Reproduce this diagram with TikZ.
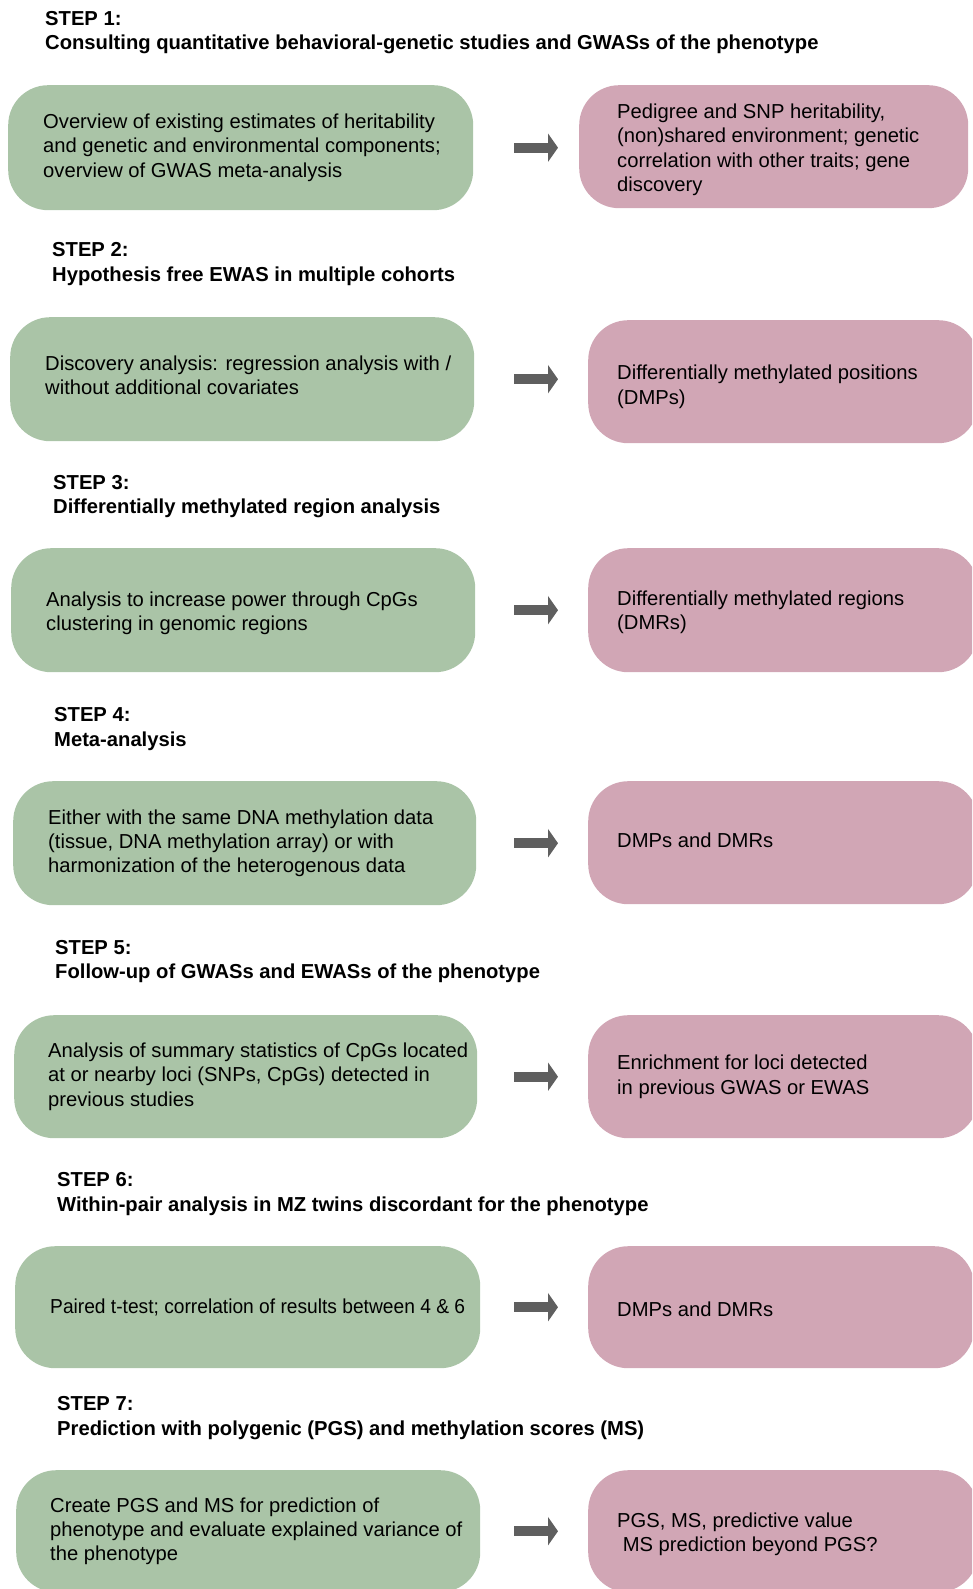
\documentclass[tikz,border=0pt]{standalone}
\usepackage{fontspec}
\setmainfont{Liberation Sans}
\newfontfamily\narrowfont[FakeStretch=0.95]{Liberation Sans}
\usetikzlibrary{arrows.meta,positioning}
\definecolor{boxgreen}{RGB}{170,196,167}
\definecolor{boxpink}{RGB}{209,166,181}
\definecolor{arrowgray}{RGB}{95,95,95}

\begin{document}
\begin{tikzpicture}[
    x=1pt, y=-1pt,
    every node/.style={color=black, font=\fontsize{20.2}{24.2}\selectfont},
    greenbox/.style={fill=boxgreen, rounded corners=40pt, anchor=north west, inner sep=0pt},
    pinkbox/.style={fill=boxpink, rounded corners=40pt, anchor=north west, inner sep=0pt},
    boxtext/.style={align=left, inner sep=0pt},
    steptitle/.style={align=left, inner sep=0pt, anchor=west, font=\fontsize{20.2}{24.2}\selectfont\bfseries},
    bigarrow/.style={line width=10pt, draw=arrowgray, -{Triangle[width=28pt,length=10pt]}}
    ]
    \clip (0,0) rectangle (972,1589);

    % step 1
    \node[steptitle] (s1) at (45,32.5) {STEP 1:\\Consulting quantitative behavioral-genetic studies and GWASs of the phenotype};
    \node[greenbox, minimum width=465pt, minimum height=125pt] (g1) at (8,85) {};
    \node[pinkbox, minimum width=389pt, minimum height=123pt] (p1) at (579,85) {};
    \node[boxtext, right=35pt of g1.west] (g1t) {Overview of existing estimates of heritability\\and genetic and environmental components;\\overview of GWAS meta-analysis};
    \node[boxtext, right=38pt of p1.west, yshift=-3pt] (p1t) {Pedigree and SNP heritability,\\(non)shared environment; genetic\\correlation with other traits; gene\\discovery};
    \draw[bigarrow, shorten <=41pt, shorten >=21pt] (g1.east) -- (g1.east -| p1.west);

    % step 2
    \node[steptitle] (s2) at (52,264) {STEP 2:\\Hypothesis free EWAS in multiple cohorts};
    \node[greenbox, minimum width=464pt, minimum height=124pt] (g2) at (10,317) {};
    \node[pinkbox, minimum width=390pt, minimum height=123pt] (p2) at (588,320) {};
    \node[boxtext, right=35pt of g2.west, yshift=4pt] (g2t) {Discovery analysis: regression analysis with /\\without additional covariates};
    \node[boxtext, right=29pt of p2.west, yshift=-5pt] (p2t) {Differentially methylated positions\\(DMPs)};
    \draw[bigarrow, shorten <=40pt, shorten >=30pt] (g2.east) -- (g2.east -| p2.west);

    % step 3
    \node[steptitle] (s3) at (53,496.5) {STEP 3:\\Differentially methylated region analysis};
    \node[greenbox, minimum width=464pt, minimum height=124pt] (g3) at (11,548) {};
    \node[pinkbox, minimum width=390pt, minimum height=124pt] (p3) at (588,548) {};
    \node[boxtext, right=35pt of g3.west, yshift=-3pt] (g3t) {Analysis to increase power through CpGs\\clustering in genomic regions};
    \node[boxtext, right=29pt of p3.west, yshift=-2pt] (p3t) {Differentially methylated regions\\(DMRs)};
    \draw[bigarrow, shorten <=39pt, shorten >=30pt] (g3.east) -- (g3.east -| p3.west);

    % step 4
    \node[steptitle] (s4) at (54,729) {STEP 4:\\Meta-analysis};
    \node[greenbox, minimum width=463pt, minimum height=124pt] (g4) at (13,781) {};
    \node[pinkbox, minimum width=390pt, minimum height=123pt] (p4) at (588,781) {};
    \node[boxtext, right=35pt of g4.west] (g4t) {Either with the same DNA methylation data\\(tissue, DNA methylation array) or with\\harmonization of the heterogenous data};
    \node[boxtext, right=29pt of p4.west, yshift=2pt] (p4t) {DMPs and DMRs};
    \draw[bigarrow, shorten <=38pt, shorten >=30pt] (g4.east) -- (g4.east -| p4.west);

    % step 5
    \node[steptitle] (s5) at (55,961.5) {STEP 5:\\Follow-up of GWASs and EWASs of the phenotype};
    \node[greenbox, minimum width=463pt, minimum height=123pt] (g5) at (14,1015) {};
    \node[pinkbox, minimum width=390pt, minimum height=123pt] (p5) at (588,1015) {};
    \node[boxtext, right=34pt of g5.west] (g5t) {Analysis of summary statistics of CpGs located\\at or nearby loci (SNPs, CpGs) detected in\\previous studies};
    \node[boxtext, right=29pt of p5.west] (p5t) {Enrichment for loci detected\\in previous GWAS or EWAS};
    \draw[bigarrow, shorten <=37pt, shorten >=30pt] (g5.east) -- (g5.east -| p5.west);

    % step 6
    \node[steptitle] (s6) at (57,1194) {STEP 6:\\Within-pair analysis in MZ twins discordant for the phenotype};
    \node[greenbox, minimum width=465pt, minimum height=122pt] (g6) at (15,1246) {};
    \node[pinkbox, minimum width=386pt, minimum height=122pt] (p6) at (588,1246) {};
    \node[boxtext, right=35pt of g6.west, font=\fontsize{20.2}{24.2}\narrowfont] (g6t) {Paired t-test; correlation of results between 4 \& 6};
    \node[boxtext, right=29pt of p6.west, yshift=-2pt] (p6t) {DMPs and DMRs};
    \draw[bigarrow, shorten <=34pt, shorten >=30pt] (g6.east) -- (g6.east -| p6.west);

    % step 7
    \node[steptitle] (s7) at (57,1418) {STEP 7:\\Prediction with polygenic (PGS) and methylation scores (MS)};
    \node[greenbox, minimum width=464pt, minimum height=122pt] (g7) at (16,1470) {};
    \node[pinkbox, minimum width=390pt, minimum height=122pt] (p7) at (588,1470) {};
    \node[boxtext, right=34pt of g7.west] (g7t) {Create PGS and MS for prediction of\\phenotype and evaluate explained variance of\\the phenotype};
    \node[boxtext, right=29pt of p7.west, yshift=-3pt] (p7t) {PGS, MS, predictive value\\\hspace*{5.6pt}MS prediction beyond PGS?};
    \draw[bigarrow, shorten <=34pt, shorten >=30pt] (g7.east) -- (g7.east -| p7.west);
\end{tikzpicture}
\end{document}
